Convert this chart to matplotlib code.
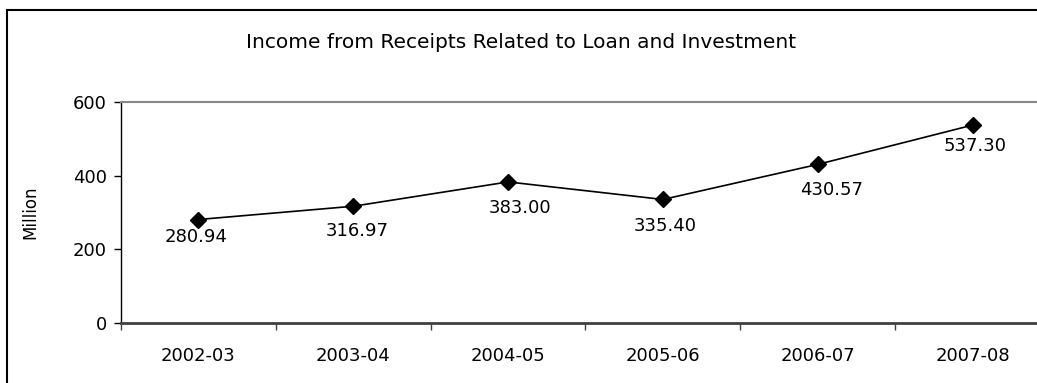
import matplotlib.pyplot as plt
from matplotlib.lines import Line2D

years = ['2002-03', '2003-04', '2004-05', '2005-06', '2006-07', '2007-08']
income = [280.94, 316.97, 383.00, 335.40, 430.57, 537.30]
yticks = [0, 200, 400, 600]

# hand-placed data label shifts (pixels, x right / y down from the marker)
label_dx = [-2, 4, 12, 2, 14, 2]
label_dy = [16, 23, 25, 25, 24, 19]

plt.rcParams['font.family'] = ['DejaVu Sans']

W, H = 1037, 383
fig = plt.figure(figsize=(W / 100, H / 100), dpi=100)
# plot area runs off the right edge, like the cropped sheet
ax = fig.add_axes([121 / W, 60 / H, (1050 - 121) / W, (323 - 102) / H])

x = list(range(len(years)))
ax.plot(x, income, color='black', lw=1.2, marker='D', ms=8, clip_on=False)
for xi, v, dx, dy in zip(x, income, label_dx, label_dy):
    ax.annotate(f'{v:.2f}', (xi, v), xytext=(dx, -dy - 6.5), textcoords='offset pixels',
                ha='center', va='baseline', fontsize=13)

ax.set_xlim(-0.5, len(years) - 0.5)
ax.set_ylim(0, 600)
ax.set_yticks(yticks)
ax.tick_params(axis='y', length=5, width=1, pad=5, labelsize=13, direction='out')

# category ticks between points, labels at the points
ax.set_xticks([i - 0.5 for i in range(len(years) + 1)])
ax.set_xticklabels([])
ax.set_xticks(x, minor=True)
ax.set_xticklabels(years, minor=True, fontsize=13)
ax.tick_params(axis='x', which='major', length=5, width=1, color='#404040', direction='out')
ax.tick_params(axis='x', which='minor', length=0, pad=17.5)

ax.spines['left'].set_color('black')
ax.spines['left'].set_linewidth(1)
ax.spines['bottom'].set_color('#404040')
ax.spines['bottom'].set_linewidth(2)
ax.spines['top'].set_color('#888888')
ax.spines['top'].set_linewidth(1.5)
ax.spines['right'].set_visible(False)

fig.text(30 / W, 1 - 212 / H, 'Million', rotation=90, ha='center', va='center', fontsize=12)
fig.text(521 / W, 1 - 43 / H, 'Income from Receipts Related to Loan and Investment',
         ha='center', va='center', fontsize=14.5)

# chart border
fig.add_artist(Line2D([7 / W, 7 / W], [0, 1 - 10 / H], color='black', lw=1.5))
fig.add_artist(Line2D([7 / W, 1], [1 - 10 / H, 1 - 10 / H], color='black', lw=1.5))

fig.savefig('out.png', dpi=100)
